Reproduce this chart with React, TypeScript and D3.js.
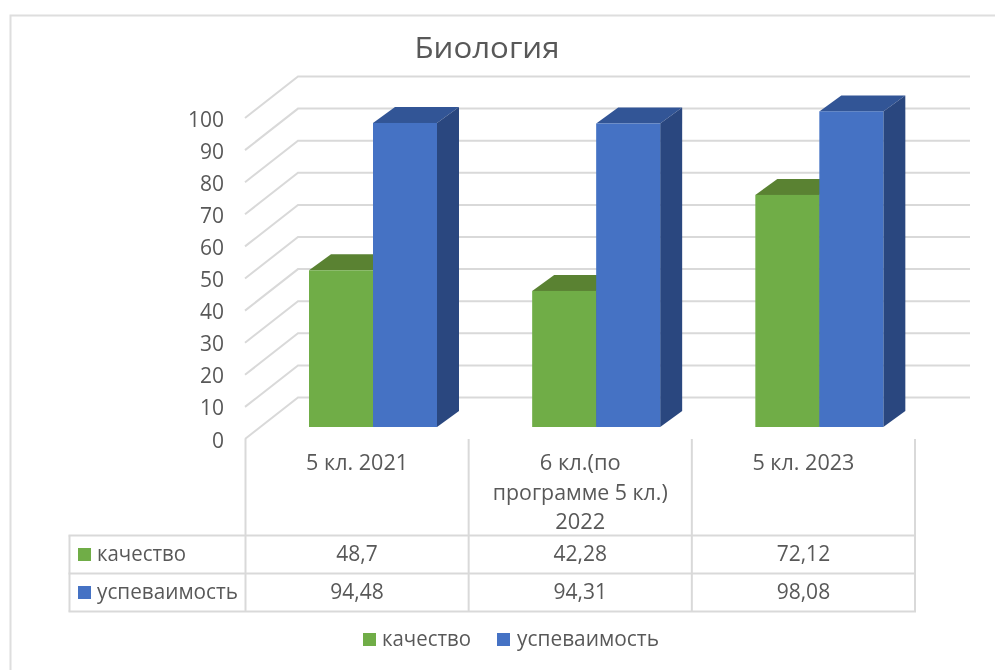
import React from "react";
import * as d3 from "d3";

const title = "Биология";
const categories = ["5 кл. 2021", "6 кл.(по программе 5 кл.) 2022", "5 кл. 2023"];
const categoryLines = [["5 кл. 2021"], ["6 кл.(по", "программе 5 кл.)", "2022"], ["5 кл. 2023"]];
const kachestvo = [48.7, 42.28, 72.12];
const uspevaemost = [94.48, 94.31, 98.08];
const kachestvoLabels = ["48,7", "42,28", "72,12"];
const uspevaemostLabels = ["94,48", "94,31", "98,08"];
const ticks = [0, 10, 20, 30, 40, 50, 60, 70, 80, 90, 100];
const seriesNames = ["качество", "успеваимость"];

const FONT = "'Open Sans', sans-serif";
const TXT = "#595959";
const GRID = "#d9d9d9";
const GREEN = { front: "#70ad47", top: "#5a8233", side: "#43632a" };
const BLUE = { front: "#4472c4", top: "#325596", side: "#2a477f" };

// Front plane of the 3D box and the shift to the back wall.
const xBand = d3.scaleBand<string>().domain(categories).range([245.5, 915]);
const yFront = d3.scaleLinear().domain([0, 100]).range([439, 118]);
const yBar = d3.scaleLinear().domain([0, 100]).range([427, 105.2]);
const DX = 53;
const DY = 41.5;
const BAR_DX = 22;
const BAR_DY = 16;
const BAR_W = 64;
const LABEL_SIZE = 21;

// Drawn width of each axis label line, to match the narrower face of the original.
const lineWidth: Record<string, number> = {
  "5 кл. 2021": 102,
  "6 кл.(по": 81,
  "программе 5 кл.)": 175,
  "2022": 50,
  "5 кл. 2023": 102,
};

function Bar({ x, v, c }: { x: number; v: number; c: typeof GREEN }) {
  const y0 = yBar(0);
  const y1 = yBar(v);
  return (
    <g>
      <polygon points={`${x},${y1} ${x + BAR_DX},${y1 - BAR_DY} ${x + BAR_W + BAR_DX},${y1 - BAR_DY} ${x + BAR_W},${y1}`} fill={c.top} />
      <polygon points={`${x + BAR_W},${y1} ${x + BAR_W + BAR_DX},${y1 - BAR_DY} ${x + BAR_W + BAR_DX},${y0 - BAR_DY} ${x + BAR_W},${y0}`} fill={c.side} />
      <rect x={x} y={y1} width={BAR_W} height={y0 - y1} fill={c.front} />
    </g>
  );
}

export default function App() {
  const rows = [535.5, 573.5, 611.5];
  const tableLeft = 69.5;
  const colEdges = [...categories.map((c) => xBand(c) as number), 915];
  const textProps = { fontFamily: FONT, fill: TXT };
  const sw = 2;
  return (
    <svg width={995} height={670} style={{ position: "fixed", left: 0, top: 0, background: "#fff" }}>
      <defs>
        <filter id="soft" x="0" y="0" width="100%" height="100%" filterUnits="userSpaceOnUse" primitiveUnits="userSpaceOnUse">
          <feGaussianBlur stdDeviation={0.55} />
        </filter>
      </defs>
      <g filter="url(#soft)">
        <rect width={995} height={670} fill="#fff" />
        <path d="M10.5,670V15.5H995" fill="none" stroke="#dedede" strokeWidth={2} />
        <text x={487} y={58} textAnchor="middle" fontSize={30} {...textProps} textLength={145} lengthAdjust="spacingAndGlyphs">{title}</text>

        {ticks.map((t) => (
          <g key={t}>
            <path
              d={`M${245},${yFront(t)}L${245 + DX},${yFront(t) - DY}H970`}
              fill="none" stroke={GRID} strokeWidth={sw}
            />
            <text x={224} y={yFront(t) + 8.5} textAnchor="end" fontSize={LABEL_SIZE} {...textProps}>{t}</text>
          </g>
        ))}

        {categories.map((c, i) => {
          const x0 = (xBand(c) as number) + 63.5;
          return (
            <g key={c}>
              <Bar x={x0} v={kachestvo[i]} c={GREEN} />
              <Bar x={x0 + BAR_W} v={uspevaemost[i]} c={BLUE} />
            </g>
          );
        })}

        {colEdges.map((x) => (
          <line key={x} x1={x} x2={x} y1={439} y2={rows[2]} stroke={GRID} strokeWidth={sw} />
        ))}
        {rows.map((y) => (
          <line key={y} x1={tableLeft - 1} x2={916} y1={y} y2={y} stroke={GRID} strokeWidth={sw} />
        ))}
        <line x1={tableLeft} x2={tableLeft} y1={rows[0]} y2={rows[2]} stroke={GRID} strokeWidth={sw} />

        {categories.map((c, i) => {
          const cx = (xBand(c) as number) + xBand.bandwidth() / 2;
          return (
            <g key={c}>
              {categoryLines[i].map((ln, j) => (
                <text key={ln} x={cx} y={470 + j * 29.5} textAnchor="middle" fontSize={LABEL_SIZE} {...textProps} textLength={lineWidth[ln]} lengthAdjust="spacingAndGlyphs">{ln}</text>
              ))}
              <text x={cx} y={561} textAnchor="middle" fontSize={LABEL_SIZE} {...textProps}>{kachestvoLabels[i]}</text>
              <text x={cx} y={599} textAnchor="middle" fontSize={LABEL_SIZE} {...textProps}>{uspevaemostLabels[i]}</text>
            </g>
          );
        })}

        {seriesNames.map((s, i) => {
          const y = rows[i] + 12.5;
          const col = i === 0 ? GREEN : BLUE;
          return (
            <g key={s}>
              <rect x={78} y={y} width={13} height={13} fill={col.front} />
              <text x={97} y={y + 13} fontSize={LABEL_SIZE} {...textProps} textLength={i === 0 ? 89 : 141} lengthAdjust="spacingAndGlyphs">{s}</text>
            </g>
          );
        })}

        <rect x={363} y={633} width={13} height={13} fill={GREEN.front} />
        <text x={382} y={646} fontSize={LABEL_SIZE} {...textProps} textLength={89} lengthAdjust="spacingAndGlyphs">{seriesNames[0]}</text>
        <rect x={497} y={633} width={13} height={13} fill={BLUE.front} />
        <text x={517} y={646} fontSize={LABEL_SIZE} {...textProps} textLength={142} lengthAdjust="spacingAndGlyphs">{seriesNames[1]}</text>
      </g>
    </svg>
  );
}
